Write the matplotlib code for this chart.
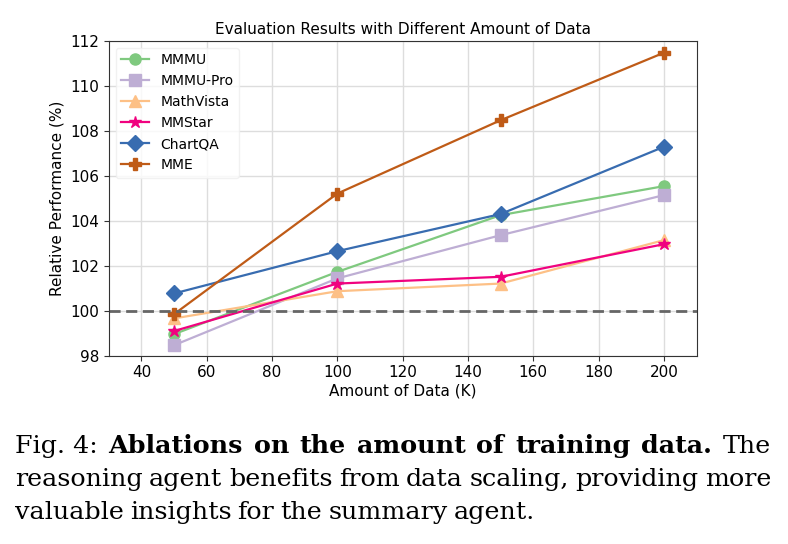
import matplotlib
matplotlib.use("Agg")
import matplotlib.pyplot as plt

# Datos
amounts = [50, 100, 150, 200]
series_names = ["MMMU", "MMMU-Pro", "MathVista", "MMStar", "ChartQA", "MME"]
mmmu = [98.96, 101.73, 104.25, 105.54]
mmmu_pro = [98.47, 101.44, 103.36, 105.14]
mathvista = [99.66, 100.87, 101.21, 103.14]
mmstar = [99.10, 101.21, 101.51, 102.96]
chartqa = [100.77, 102.65, 104.30, 107.29]
mme = [99.85, 105.21, 108.47, 111.47]

colors = ["#7fc97f", "#beaed4", "#fdc086", "#f0027f", "#386cb0", "#bf5b17"]
markers = ["o", "s", "^", "*", "D", "P"]

fig = plt.figure(figsize=(7.88, 5.44), dpi=100)
ax = fig.add_axes([0.138, 0.346, 0.746, 0.579])

for name, vals, c, m in zip(series_names, [mmmu, mmmu_pro, mathvista, mmstar, chartqa, mme], colors, markers):
    ms = 8
    if m == "*":
        ms = 9
    ax.plot(amounts, vals, color=c, marker=m, markersize=ms, linewidth=1.6, label=name)

ax.axhline(100, color="#666666", linestyle="--", linewidth=2, dashes=(4, 2))

ax.set_xlim(30, 210)
ax.set_ylim(98, 112)
ax.set_xticks(range(40, 201, 20))
ax.set_yticks(range(98, 113, 2))
ax.grid(True, color="#dddddd", linewidth=1)
ax.set_axisbelow(True)
ax.tick_params(labelsize=11, color="#333333")
for s in ax.spines.values():
    s.set_color("#333333")

ax.set_title("Evaluation Results with Different Amount of Data", fontsize=11, pad=5)
ax.set_xlabel("Amount of Data (K)", fontsize=11, labelpad=2)
ax.set_ylabel("Relative Performance (%)", fontsize=11)
ax.legend(loc="upper left", fontsize=10, framealpha=0.8, edgecolor="#eeeeee")

# Pie de figura justificado, palabra por palabra
caption_lines = [
    [("Fig. 4:", "normal"), ("Ablations", "bold"), ("on", "bold"), ("the", "bold"), ("amount", "bold"),
     ("of", "bold"), ("training", "bold"), ("data.", "bold"), ("The", "normal")],
    [(w, "normal") for w in "reasoning agent benefits from data scaling, providing more".split()],
    [(w, "normal") for w in "valuable insights for the summary agent.".split()],
]
x0, x1 = 15, 771
baselines = [453, 486, 519]
fsize = 18.3
renderer = fig.canvas.get_renderer()
for i, (line, yb) in enumerate(zip(caption_lines, baselines)):
    texts = []
    for w, wt in line:
        t = fig.text(0, 1 - yb / 544, w, fontsize=fsize, fontweight=wt,
                     family="DejaVu Serif", va="baseline", ha="left")
        texts.append(t)
    widths = [t.get_window_extent(renderer).width for t in texts]
    if i < len(caption_lines) - 1:
        gap = (x1 - x0 - sum(widths)) / (len(texts) - 1)
    else:
        gap = fsize * 0.33
    x = x0
    for t, w in zip(texts, widths):
        t.set_x(x / 788)
        x += w + gap

fig.savefig("out.png", dpi=100)
